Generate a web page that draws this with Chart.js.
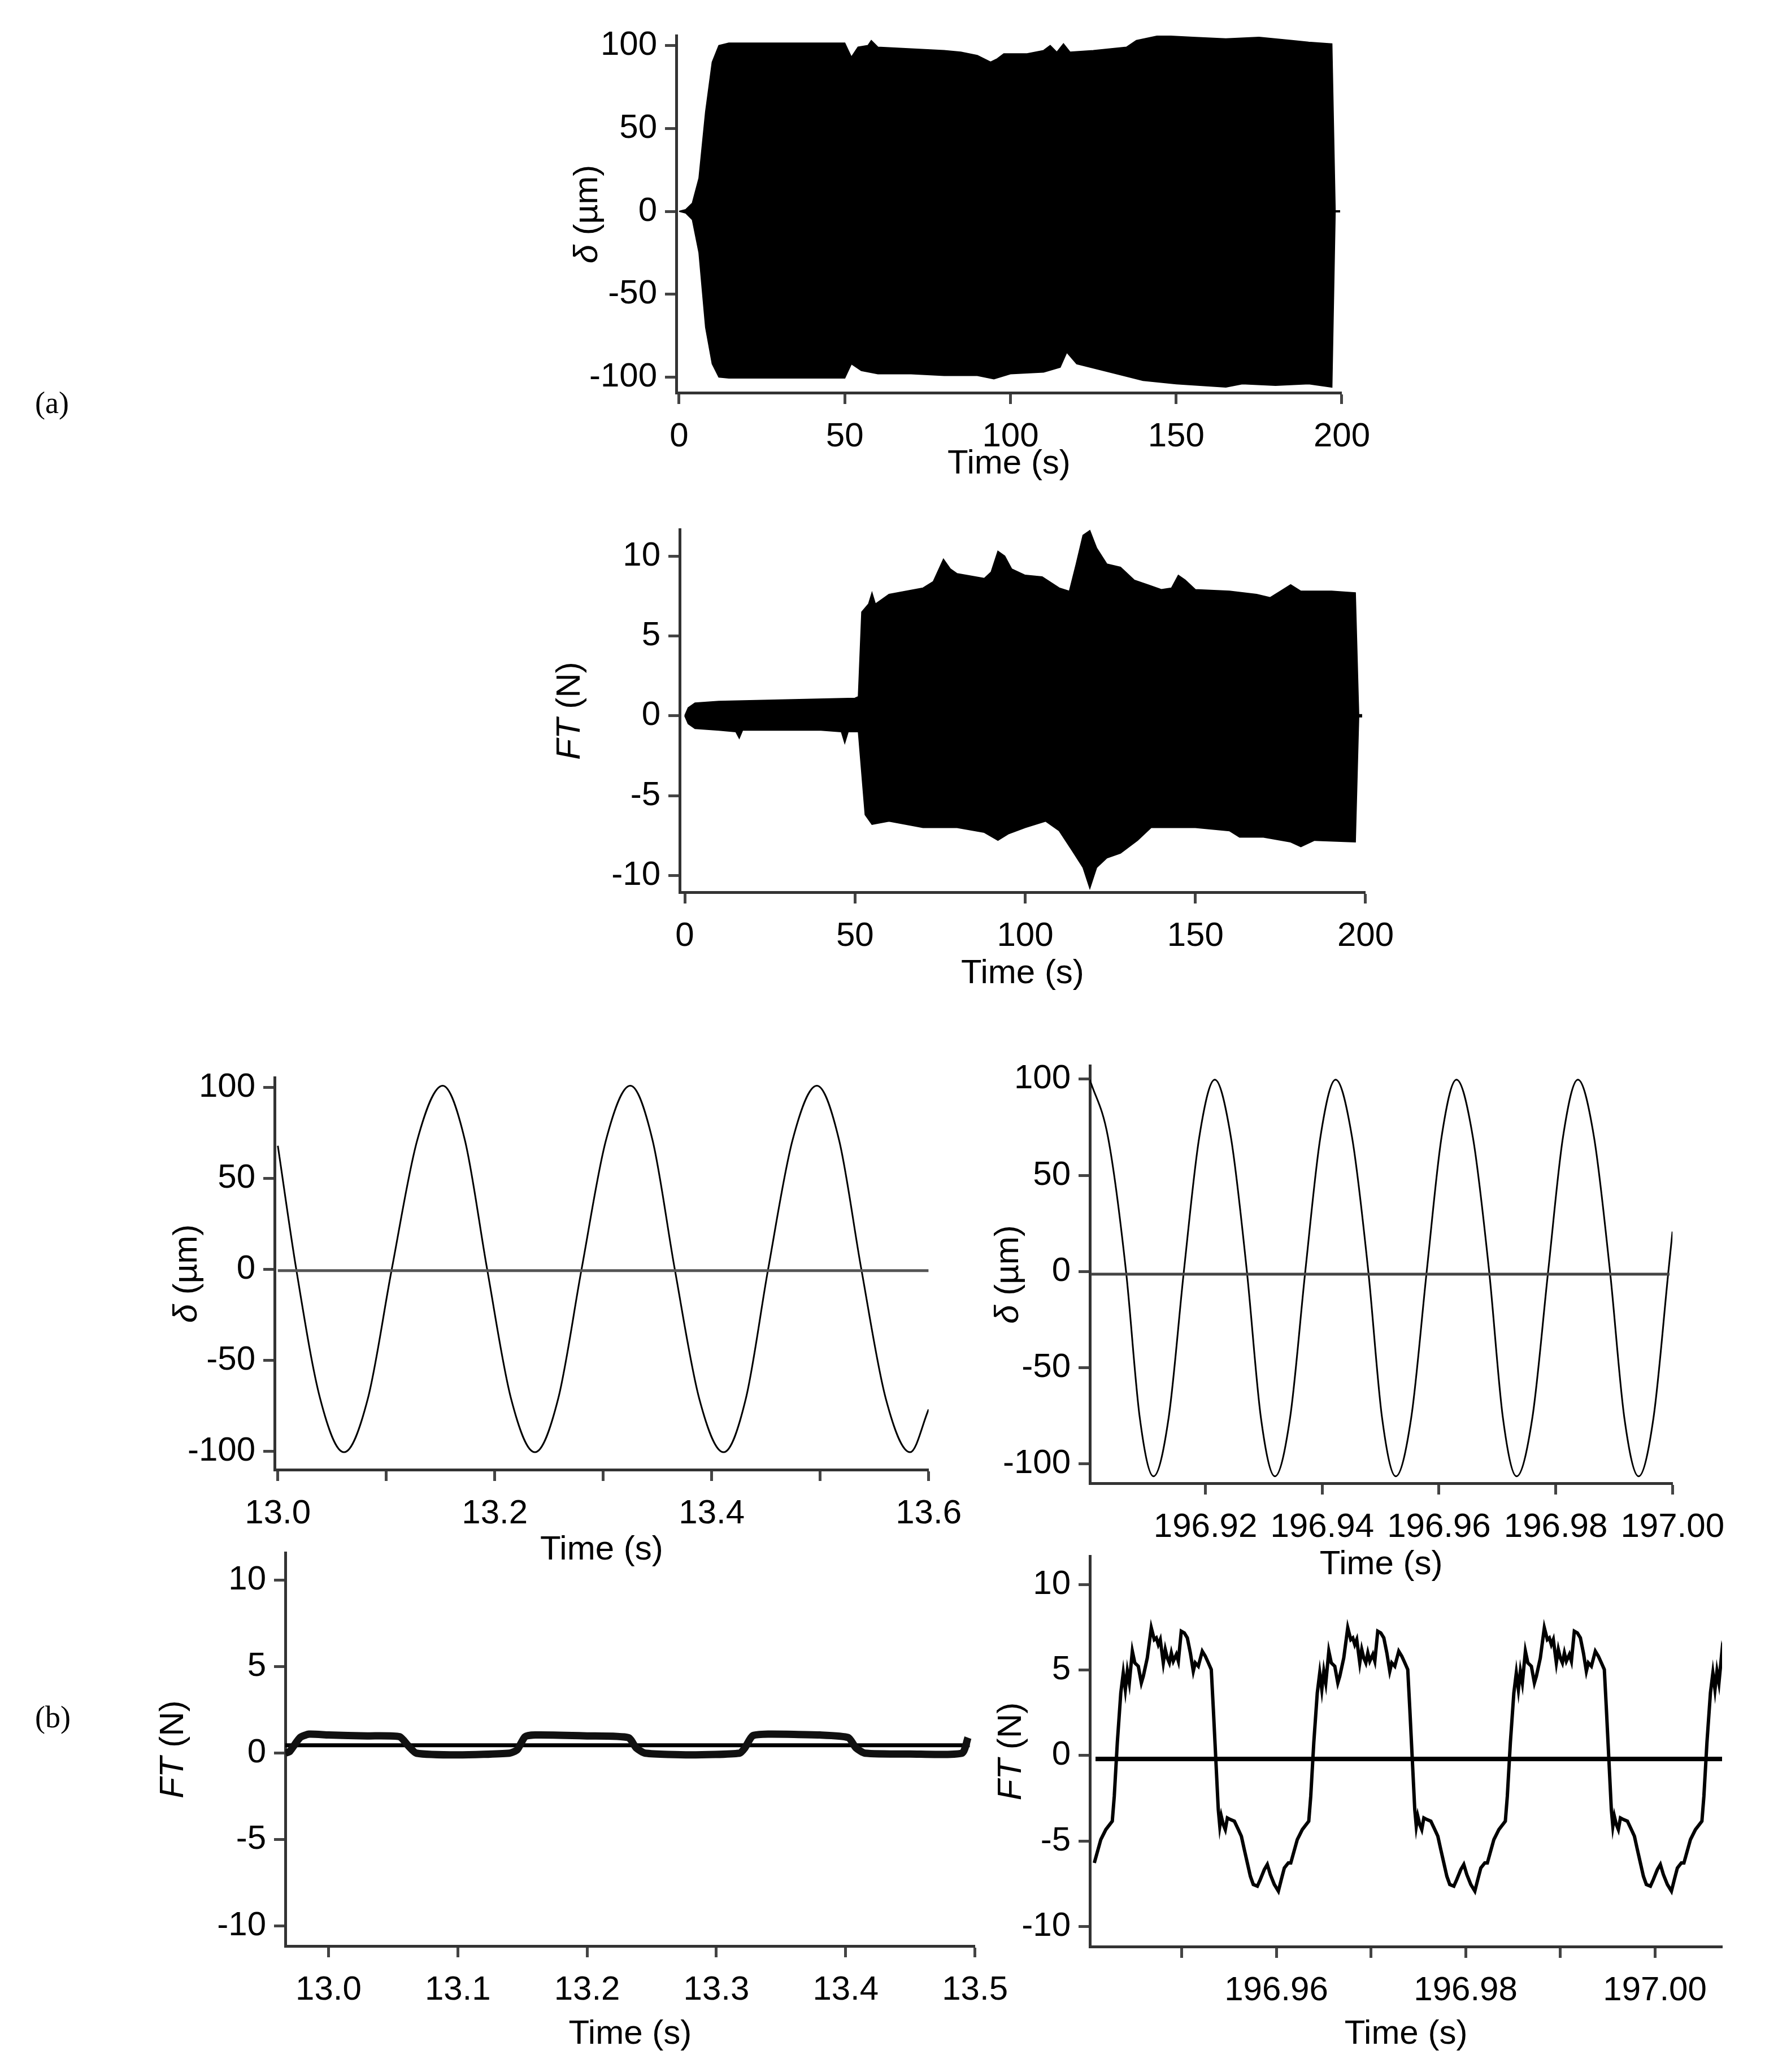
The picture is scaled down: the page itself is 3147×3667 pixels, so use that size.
<!DOCTYPE html>
<html>
<head>
<meta charset="utf-8">
<script src="https://cdn.jsdelivr.net/npm/chart.js@4.4.1/dist/chart.umd.min.js"></script>
<style>
  body { margin: 0; background: #fff; width: 3147px; height: 3667px; position: relative; overflow: hidden; }
  canvas { position: absolute; }
  .panel { position: absolute; font-family: 'Liberation Serif', serif; font-size: 54px; color: #000; }
</style>
</head>
<body>
<div class="panel" style="left:62px; top:682px;">(a)</div>
<div class="panel" style="left:62px; top:3008px;">(b)</div>

<script>
// (a) top: displacement envelope over whole test
const deltaUpperT = [0, 2, 4, 6, 8, 10, 12, 15, 50, 52, 54, 57, 58, 60, 70, 80, 85, 90, 94, 96, 98, 105, 110, 112, 114, 116, 118, 125, 135, 138, 145, 155, 165, 175, 185, 190, 197, 198];
const deltaUpperV = [0, 1, 5, 20, 60, 90, 100, 101.5, 101.5, 93, 99, 100, 103, 99, 98, 97, 96, 94, 90, 92, 95, 95, 97, 100, 96, 101, 96, 97, 99, 103, 106, 105, 104, 105, 103, 102, 101, 0];
const deltaLowerT = [0, 2, 4, 6, 8, 10, 12, 15, 50, 52, 55, 60, 70, 80, 90, 95, 100, 110, 115, 117, 120, 130, 140, 150, 165, 170, 180, 190, 197, 198];
const deltaLowerV = [0, -1, -5, -25, -70, -92, -100, -100.5, -100.5, -92, -96, -98, -98, -99, -99, -101, -98, -97, -94, -85, -92, -97, -102, -104, -106, -104, -105, -104, -106, 0];

// (a) bottom: friction force envelope
const ftUpperT = [0, 1, 3, 10, 30, 50, 51, 52, 54, 55, 56, 60, 70, 73, 76, 78, 80, 88, 90, 92, 94, 96, 100, 105, 110, 113, 115, 117, 119, 121, 124, 128, 132, 136, 140, 143, 145, 147, 150, 160, 168, 172, 175, 178, 181, 190, 197, 198];
const ftUpperV = [0, 0.5, 0.8, 0.9, 1.0, 1.1, 1.2, 6.5, 7.0, 7.7, 7.0, 7.6, 8.0, 8.4, 9.8, 9.2, 8.9, 8.6, 9.0, 10.3, 10.0, 9.2, 8.8, 8.7, 8.0, 7.8, 9.5, 11.3, 11.6, 10.5, 9.5, 9.3, 8.5, 8.2, 7.9, 8.0, 8.8, 8.5, 7.9, 7.8, 7.6, 7.4, 7.8, 8.2, 7.8, 7.8, 7.7, 0];
const ftLowerT = [0, 1, 3, 10, 15, 16, 17, 40, 46, 47, 48, 51, 53, 55, 60, 70, 80, 88, 92, 95, 100, 106, 110, 114, 117, 119, 121, 124, 128, 133, 137, 145, 150, 160, 163, 170, 178, 181, 185, 197, 198];
const ftLowerV = [0, -0.5, -0.8, -0.9, -1.0, -1.4, -0.9, -0.9, -1.0, -1.7, -1.0, -1.0, -6.2, -6.8, -6.6, -7.0, -7.0, -7.3, -7.8, -7.4, -7.0, -6.6, -7.2, -8.5, -9.5, -10.8, -9.5, -8.9, -8.6, -7.8, -7.0, -7.0, -7.0, -7.2, -7.6, -7.6, -7.9, -8.2, -7.8, -7.9, 0];

// (b) left top: displacement near t = 13 s
const d13T = [13.0, 13.017, 13.039, 13.061, 13.083, 13.105, 13.1285, 13.152, 13.1725, 13.193, 13.215, 13.237, 13.2585, 13.280, 13.3025, 13.325, 13.3455, 13.366, 13.3885, 13.411, 13.4315, 13.452, 13.4745, 13.497, 13.5175, 13.538, 13.5605, 13.583, 13.6];
const d13V = [68, 0, -71, -100.5, -71, 0, 71, 101, 71, 0, -71, -100.5, -71, 0, 71, 101, 71, 0, -71, -100.5, -71, 0, 71, 101, 71, 0, -71, -100.5, -77];

// (b) right top: displacement near t = 197 s
const d197T = [196.9002, 196.9033, 196.9064, 196.90875, 196.9111, 196.9137, 196.9163, 196.91895, 196.9216, 196.92435, 196.9271, 196.9295, 196.9319, 196.9345, 196.9371, 196.9397, 196.9423, 196.9451, 196.9479, 196.95025, 196.9526, 196.95525, 196.9579, 196.96045, 196.9630, 196.9658, 196.9686, 196.97095, 196.9733, 196.976, 196.9787, 196.98125, 196.9838, 196.98655, 196.9893, 196.99175, 196.9942, 196.99675, 196.9993, 197.0];
const d197V = [99.7, 70, 0, -76, -106.5, -76, 0, 70, 99.7, 70, 0, -76, -106.5, -76, 0, 70, 99.7, 70, 0, -76, -106.5, -76, 0, 70, 99.7, 70, 0, -76, -106.5, -76, 0, 70, 99.7, 70, 0, -76, -106.5, -76, 0, 20.7];

// (b) left bottom: friction force near t = 13 s
const f13T = [12.9666, 12.970, 12.978, 12.985, 13.00, 13.03, 13.055, 13.062, 13.068, 13.10, 13.14, 13.146, 13.152, 13.16, 13.20, 13.232, 13.238, 13.245, 13.28, 13.318, 13.322, 13.328, 13.34, 13.38, 13.402, 13.408, 13.415, 13.45, 13.49, 13.4946];
const f13V = [0.0, 0.1, 0.9, 1.1, 1.05, 1.0, 0.95, 0.4, 0.0, -0.1, 0.0, 0.2, 0.95, 1.05, 1.0, 0.9, 0.3, 0.0, -0.1, 0.0, 0.3, 1.0, 1.1, 1.05, 0.9, 0.3, 0.0, -0.05, 0.0, 0.9];
const f13Mean = 0.46;

// (b) right bottom: friction force near t = 197 s, one cycle (ms from cycle start) and cycle starts
const f197CycleMs = [0, 0.69, 1.22, 1.90, 2.11, 2.43, 2.80, 3.06, 3.28, 3.49, 3.70, 4.02, 4.28, 4.65, 4.97, 5.18, 5.60, 6.02, 6.34, 6.55, 6.76, 6.97, 7.29, 7.50, 7.71, 7.93, 8.14, 8.35, 8.67, 8.88, 9.19, 9.51, 9.83, 10.15, 10.46, 10.67, 10.99, 11.41, 11.73, 12.05, 12.36, 12.58, 12.84, 13.10, 13.26, 13.42, 13.63, 13.84, 14.06, 14.37, 14.80, 15.22, 15.54, 15.85, 16.17, 16.49, 16.80, 17.23, 17.54, 17.96, 18.28, 18.60, 19.02, 19.45, 19.76, 20.08, 20.50];
const f197CycleV = [-6.28, -4.91, -4.33, -3.84, -2.38, 0.74, 3.66, 4.83, 3.86, 4.93, 4.25, 6.10, 5.42, 5.22, 4.25, 4.64, 5.71, 7.47, 6.78, 6.88, 6.49, 6.78, 5.42, 6.20, 5.71, 5.42, 6.00, 5.52, 5.91, 5.52, 7.27, 7.17, 6.88, 6.00, 4.93, 5.42, 5.22, 6.10, 5.81, 5.42, 5.03, 2.69, -0.23, -3.16, -4.13, -3.55, -4.04, -4.33, -3.65, -3.74, -3.84, -4.33, -4.72, -5.50, -6.28, -7.06, -7.54, -7.64, -7.25, -6.67, -6.37, -6.96, -7.54, -7.93, -7.25, -6.57, -6.28];
const f197CycleStart = [196.94077, 196.96153, 196.98230, 197.00307];
const f197Mean = -0.2;

// tick values
const ticksA1X = [0, 50, 100, 150, 200];
const ticksA1Y = [-100, -50, 0, 50, 100];
const ticksA2Y = [-10, -5, 0, 5, 10];
const ticksB1X = [13.0, 13.1, 13.2, 13.3, 13.4, 13.5, 13.6];
const labelsB1X = ['13.0', '', '13.2', '', '13.4', '', '13.6'];
const ticksB2X = [196.92, 196.94, 196.96, 196.98, 197.00];
const ticksB3X = [13.0, 13.1, 13.2, 13.3, 13.4, 13.5];
const ticksB4X = [196.95, 196.96, 196.97, 196.98, 196.99, 197.00];
const labelsB4X = ['', '196.96', '', '196.98', '', '197.00'];

const pts = (t, v) => t.map((x, i) => ({ x: x, y: v[i] }));

const f197Pts = [];
f197CycleStart.forEach(s => {
    f197CycleMs.forEach((ms, i) => {
        const t = s + ms / 1000;
        if (t <= 197.0075) f197Pts.push({ x: t, y: f197CycleV[i] });
    });
});
f197Pts.push({ x: 197.0071, y: 5.0 });

const FONT = "'Liberation Sans', Arial, sans-serif";
const FS = 60;
const YW = 250, PT = 40, PR = 70, XH = 200;

// text drawn by hand: y title with italic parts and x title
const axisText = {
    id: 'axisText',
    afterDraw(chart, args, o) {
        const ctx = chart.ctx, a = chart.chartArea;
        ctx.save();
        ctx.fillStyle = '#000';
        ctx.font = FS + 'px ' + FONT;
        ctx.textAlign = 'center';
        ctx.textBaseline = 'middle';
        ctx.fillText('Time (s)', (a.left + a.right) / 2, a.bottom + o.xTitleDy);
        // y title, rotated
        ctx.translate(o.yTitleX, (a.top + a.bottom) / 2);
        ctx.rotate(-Math.PI / 2);
        let w = 0;
        o.parts.forEach(p => {
            ctx.font = (p.i ? 'italic ' : '') + FS + 'px ' + FONT;
            w += ctx.measureText(p.t).width;
        });
        let x = -w / 2;
        ctx.textAlign = 'left';
        o.parts.forEach(p => {
            ctx.font = (p.i ? 'italic ' : '') + FS + 'px ' + FONT;
            ctx.fillText(p.t, x, 0);
            x += ctx.measureText(p.t).width;
        });
        ctx.restore();
    }
};

function makeChart(cfg) {
    const c = document.createElement('canvas');
    const w = cfg.R - cfg.L + YW + PR;
    const h = cfg.B - cfg.T + PT + XH;
    c.width = w; c.height = h;
    c.style.left = (cfg.L - YW) + 'px';
    c.style.top = (cfg.T - PT) + 'px';
    c.style.width = w + 'px'; c.style.height = h + 'px';
    document.body.appendChild(c);

    const tickOpts = (vals, labels, digits) => ({
        afterBuildTicks: s => { s.ticks = vals.map(v => ({ value: v })); },
        ticks: {
            autoSkip: false, maxRotation: 0, color: '#000',
            font: { family: FONT, size: FS },
            callback: (v, i) => labels ? labels[i] : (digits ? Number(v).toFixed(digits) : String(v))
        }
    });
    const axisStyle = {
        grid: { display: true, drawOnChartArea: false, drawTicks: true, tickLength: 20, tickWidth: 5, tickColor: '#444' },
        border: { display: true, color: '#333', width: 5 }
    };

    const xs = Object.assign({ type: 'linear', min: cfg.xMin, max: cfg.xMax }, axisStyle, tickOpts(cfg.xTicks, cfg.xLabels, cfg.xDigits));
    xs.ticks.padding = 22;
    xs.afterFit = s => { s.height = XH; };
    const ys = Object.assign({ type: 'linear', min: cfg.yMin, max: cfg.yMax }, axisStyle, tickOpts(cfg.yTicks, null, 0));
    ys.ticks.padding = 14;
    ys.afterFit = s => { s.width = YW; };

    new Chart(c, {
        type: 'line',
        data: { datasets: cfg.datasets },
        options: {
            responsive: false, animation: false, devicePixelRatio: 1,
            layout: { padding: { top: PT, right: PR, left: 0, bottom: 0 } },
            parsing: false,
            elements: { point: { radius: 0 } },
            scales: { x: xs, y: ys },
            plugins: {
                legend: { display: false }, tooltip: { enabled: false },
                axisText: { xTitleDy: cfg.xTitleDy, yTitleX: cfg.yTitleX - (cfg.L - YW), parts: cfg.parts }
            }
        },
        plugins: [axisText]
    });
}

const deltaParts = [{ t: 'δ', i: true }, { t: ' (µm)' }];
const ftParts = [{ t: 'FT', i: true }, { t: ' (N)' }];

const envelope = (uT, uV, lT, lV) => [
    { data: pts(uT, uV), borderColor: '#000', borderWidth: 2, backgroundColor: '#000', fill: '+1', tension: 0 },
    { data: pts(lT, lV), borderColor: '#000', borderWidth: 2, fill: false, tension: 0 }
];
const flat = (x0, x1, y, w, col) => ({ data: [{ x: x0, y: y }, { x: x1, y: y }], borderColor: col, borderWidth: w, fill: false });

makeChart({
    L: 1197, R: 2377, T: 53, B: 695, xMin: -0.85, xMax: 200, yMin: -109.4, yMax: 106,
    xTicks: ticksA1X, yTicks: ticksA1Y, xTitleDy: 126, yTitleX: 1040, parts: deltaParts,
    datasets: envelope(deltaUpperT, deltaUpperV, deltaLowerT, deltaLowerV)
        .concat([flat(197, 199.5, 0, 4, '#000')])
});

makeChart({
    L: 1203, R: 2419, T: 927, B: 1579, xMin: -1.5, xMax: 200, yMin: -11.05, yMax: 11.67,
    xTicks: ticksA1X, yTicks: ticksA2Y, xTitleDy: 144, yTitleX: 1009, parts: ftParts,
    datasets: envelope(ftUpperT, ftUpperV, ftLowerT, ftLowerV)
        .concat([flat(197, 199, 0, 6, '#000')])
});

makeChart({
    L: 486, R: 1654, T: 1897, B: 2601, xMin: 12.997, xMax: 13.6, yMin: -110.1, yMax: 105.5,
    xTicks: ticksB1X, xLabels: labelsB1X, yTicks: ticksA1Y, xTitleDy: 142, yTitleX: 331, parts: deltaParts,
    datasets: [
        flat(13.0, 13.6, -0.7, 5, '#555'),
        { data: pts(d13T, d13V), borderColor: '#000', borderWidth: 3, fill: false, cubicInterpolationMode: 'monotone' }
    ]
});

makeChart({
    L: 1929, R: 3004, T: 1876, B: 2625, xMin: 196.9002, xMax: 197.0, yMin: -110.1, yMax: 107,
    xTicks: ticksB2X, xDigits: 2, yTicks: ticksA1Y, xTitleDy: 144, yTitleX: 1785, parts: deltaParts,
    datasets: [
        flat(196.9004, 196.9995, -1.4, 5, '#444'),
        { data: pts(d197T, d197V), borderColor: '#000', borderWidth: 3, fill: false, cubicInterpolationMode: 'monotone' }
    ]
});

makeChart({
    L: 505, R: 1736, T: 2738, B: 3444, xMin: 12.9666, xMax: 13.5, yMin: -11.16, yMax: 11.6,
    xTicks: ticksB3X, xDigits: 1, yTicks: ticksA2Y, xTitleDy: 156, yTitleX: 307, parts: ftParts,
    datasets: [
        { data: pts(f13T, f13V), borderColor: '#111', borderWidth: 13, fill: false, tension: 0.2 },
        flat(12.9666, 13.496, f13Mean, 7, '#000')
    ]
});

makeChart({
    L: 1929, R: 3048, T: 2744, B: 3445, xMin: 196.9403, xMax: 197.0071, yMin: -11.17, yMax: 11.66,
    xTicks: ticksB4X, xLabels: labelsB4X, yTicks: ticksA2Y, xTitleDy: 155, yTitleX: 1790, parts: ftParts,
    datasets: [
        flat(196.9409, 197.0071, f197Mean, 8, '#000'),
        { data: f197Pts, borderColor: '#000', borderWidth: 6, fill: false, tension: 0 }
    ]
});
</script>
</body>
</html>
